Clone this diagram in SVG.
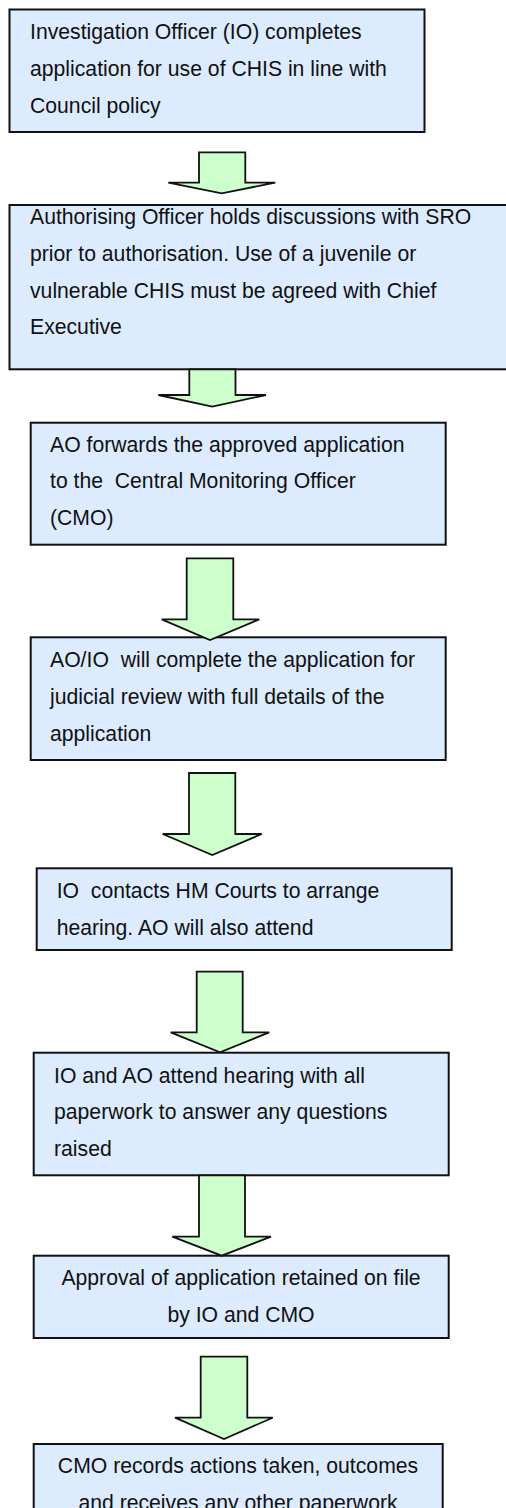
<svg xmlns="http://www.w3.org/2000/svg" width="506" height="1508" viewBox="0 0 506 1508">
  <style>
    .box { fill: #dcebfe; stroke: #111; stroke-width: 2; }
    .arrow { fill: #ccffcc; stroke: #111; stroke-width: 1.8; stroke-linejoin: miter; }
    .t { font-family: "Liberation Sans", Arial, sans-serif; font-size: 21.2px; fill: #111; white-space: pre; }
    .c { text-anchor: middle; }
  </style>
  <rect width="506" height="1508" fill="#ffffff"/>

  <g id="nodes">
    <g id="step1">
      <rect class="box" x="9.5" y="9.5" width="415" height="122.5"/>
      <text class="t" x="30" y="39.3">Investigation Officer (IO) completes</text>
      <text class="t" x="30" y="76">application for use of CHIS in line with</text>
      <text class="t" x="30" y="112.7">Council policy</text>
    </g>
    <g id="step2">
      <rect class="box" x="9.5" y="205" width="500" height="164.3"/>
      <text class="t" x="30" y="224.3">Authorising Officer holds discussions with SRO</text>
      <text class="t" x="30" y="261">prior to authorisation. Use of a juvenile or</text>
      <text class="t" x="30" y="297.7">vulnerable CHIS must be agreed with Chief</text>
      <text class="t" x="30" y="334.3">Executive</text>
    </g>
    <g id="step3">
      <rect class="box" x="30.7" y="422.7" width="415" height="122"/>
      <text class="t" x="50" y="451.7">AO forwards the approved application</text>
      <text class="t" x="50" y="488.4" xml:space="preserve">to the  Central Monitoring Officer</text>
      <text class="t" x="50" y="525">(CMO)</text>
    </g>
    <g id="step4">
      <rect class="box" x="30.7" y="637.3" width="415" height="122.7"/>
      <text class="t" x="50" y="667.3" xml:space="preserve">AO/IO  will complete the application for</text>
      <text class="t" x="50" y="704">judicial review with full details of the</text>
      <text class="t" x="50" y="740.7">application</text>
    </g>
    <g id="step5">
      <rect class="box" x="36.7" y="868.3" width="415" height="81.7"/>
      <text class="t" x="56.7" y="898.3" xml:space="preserve">IO  contacts HM Courts to arrange</text>
      <text class="t" x="56.7" y="935">hearing. AO will also attend</text>
    </g>
    <g id="step6">
      <rect class="box" x="33.7" y="1052.7" width="415" height="122.6"/>
      <text class="t" x="54" y="1082.7">IO and AO attend hearing with all</text>
      <text class="t" x="54" y="1119.3">paperwork to answer any questions</text>
      <text class="t" x="54" y="1156">raised</text>
    </g>
    <g id="step7">
      <rect class="box" x="33.7" y="1255.7" width="415" height="82.3"/>
      <text class="t c" x="241" y="1285">Approval of application retained on file</text>
      <text class="t c" x="241" y="1321.7">by IO and CMO</text>
    </g>
    <g id="step8">
      <rect class="box" x="33.7" y="1444" width="409" height="100"/>
      <text class="t c" x="238" y="1473.3">CMO records actions taken, outcomes</text>
      <text class="t c" x="238" y="1510">and receives any other paperwork</text>
    </g>
  </g>

  <g id="connectors">
    <polygon class="arrow" points="199,152.3 245.3,152.3 245.3,182.7 275.3,182.7 221.7,193.3 168.3,182.7 199,182.7"/>
    <polygon class="arrow" points="189.3,369.3 235.5,369.3 235.5,395 266,395 212.3,406.7 158.3,395 189.3,395"/>
    <polygon class="arrow" points="186.7,558.3 233.3,558.3 233.3,619.3 259.3,619.3 210,640 161.7,619.3 186.7,619.3"/>
    <polygon class="arrow" points="189,773 235.3,773 235.3,834 261.7,834 212.3,855 162.7,834 189,834"/>
    <polygon class="arrow" points="196.7,971.7 242.7,971.7 242.7,1032.3 269.3,1032.3 220,1052.3 170.7,1032.3 196.7,1032.3"/>
    <polygon class="arrow" points="199,1175.3 245,1175.3 245,1236.7 271,1236.7 221.7,1255.7 172.3,1236.7 199,1236.7"/>
    <polygon class="arrow" points="200.7,1356.7 247.3,1356.7 247.3,1417.7 272.7,1417.7 224,1439 175,1417.7 200.7,1417.7"/>
  </g>
</svg>
